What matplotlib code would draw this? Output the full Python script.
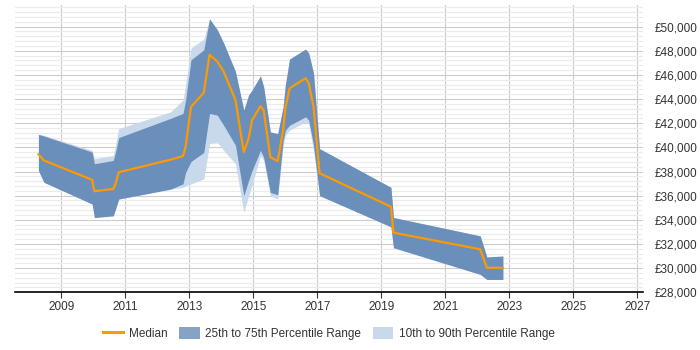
import matplotlib
matplotlib.use("Agg")
import matplotlib.pyplot as plt
from matplotlib.lines import Line2D
from matplotlib.patches import Patch
from matplotlib.ticker import MultipleLocator, FuncFormatter

plt.rcParams['font.family'] = ['Liberation Sans', 'DejaVu Sans']

# decimal years
dates = [2008.28, 2008.45, 2009.96, 2010.03, 2010.62, 2010.69, 2010.79, 2012.41,
         2012.80, 2012.88, 2013.05, 2013.45, 2013.63, 2013.87, 2014.07, 2014.44,
         2014.70, 2014.85, 2014.96, 2015.22, 2015.32, 2015.53, 2015.76, 2015.93,
         2016.00, 2016.13, 2016.63, 2016.73, 2016.88, 2017.07, 2019.30, 2019.38,
         2022.09, 2022.30, 2022.80]

median = [39420, 38920, 37310, 36360, 36560, 36980, 37940, 38980,
          39280, 40030, 43360, 44530, 47670, 47110, 46280, 43920,
          39610, 40730, 42250, 43420, 43080, 39190, 38860, 41420,
          43230, 44890, 45730, 45310, 43360, 37860, 35080, 32940,
          31560, 30030, 30030]

p75 = [41080, 40940, 39610, 38640, 38920, 39610, 40810, 42400,
       42810, 43900, 47250, 48080, 50640, 49750, 48640, 46280,
       43080, 44330, 44750, 45920, 45030, 41280, 41140, 43360,
       45170, 47310, 48140, 47810, 46140, 39890, 36690, 34190,
       32670, 30920, 31000]

p25 = [38080, 37110, 35310, 34190, 34330, 34890, 35720, 36540,
       36980, 37920, 38830, 39580, 42810, 42670, 41830, 40170,
       36000, 37250, 38080, 39750, 39190, 36270, 36080, 40580,
       41420, 41830, 42530, 42250, 40170, 36000, 33420, 31690,
       29480, 29060, 29060]

p90 = [41080, 41000, 39750, 39060, 39330, 40170, 41560, 42940,
       43920, 45170, 48220, 48970, 50640, 49750, 48640, 46280,
       43080, 44330, 44750, 45920, 45030, 41280, 41140, 43360,
       45170, 47310, 48140, 47810, 46140, 39890, 36690, 34190,
       32670, 30920, 31000]

p10 = [38080, 37110, 35310, 34190, 34330, 34890, 35720, 36540,
       36690, 36830, 36970, 37390, 40310, 40440, 39750, 38640,
       34610, 36000, 36890, 39330, 38920, 36000, 35720, 40170,
       41000, 41420, 42110, 41920, 39750, 36000, 33420, 31690,
       29480, 29060, 29060]

year_ticks = list(range(2009, 2028, 2))

orange = "#ff9900"
dark = "#6a8fbb"
light = "#c8d9ec"

fig = plt.figure(figsize=(7, 3.5), dpi=100)
ax = fig.add_axes([0.022, 0.165, 0.897, 0.821])

ax.fill_between(dates, p10, p90, color=light, linewidth=0, zorder=2)
ax.fill_between(dates, p25, p75, color=dark, linewidth=0, zorder=3)
ax.plot(dates, median, color=orange, linewidth=1.6, zorder=4)

ax.set_xlim(2007.56, 2027.19)
ax.set_ylim(28000, 51800)
ax.set_xticks(year_ticks)
ax.set_xticklabels([str(y) for y in year_ticks])
ax.yaxis.set_major_locator(MultipleLocator(2000))
ax.yaxis.set_minor_locator(MultipleLocator(400))
ax.yaxis.set_major_formatter(FuncFormatter(lambda v, p: "£{:,.0f}".format(v)))
ax.yaxis.tick_right()

ax.grid(axis="x", color="#cccccc", linewidth=0.8, zorder=0)
ax.grid(axis="y", which="major", color="#cccccc", linewidth=0.8, zorder=0)
ax.grid(axis="y", which="minor", color="#ebebeb", linewidth=0.8, zorder=0)
ax.set_axisbelow(True)

for s in ["top", "left", "right"]:
    ax.spines[s].set_visible(False)
ax.spines["bottom"].set_color("#000000")
ax.spines["bottom"].set_linewidth(1.2)

ax.tick_params(axis="x", length=4, color="#333333", labelsize=8.5, labelcolor="#333333", pad=2)
ax.tick_params(axis="y", which="both", length=0, labelsize=8.5, labelcolor="#333333", pad=8)

handles = [Line2D([], [], color=orange, linewidth=2.2),
           Patch(facecolor="#86a3c6"),
           Patch(facecolor=light)]
labels = ["Median", "25th to 75th Percentile Range", "10th to 90th Percentile Range"]
fig.legend(handles, labels, loc="center", bbox_to_anchor=(0.47, 0.046), ncol=3,
           frameon=False, fontsize=8.5, handlelength=1.7, handleheight=1.2,
           columnspacing=1.0, handletextpad=0.5, labelcolor="#333333")

fig.savefig("out.png", dpi=100)
